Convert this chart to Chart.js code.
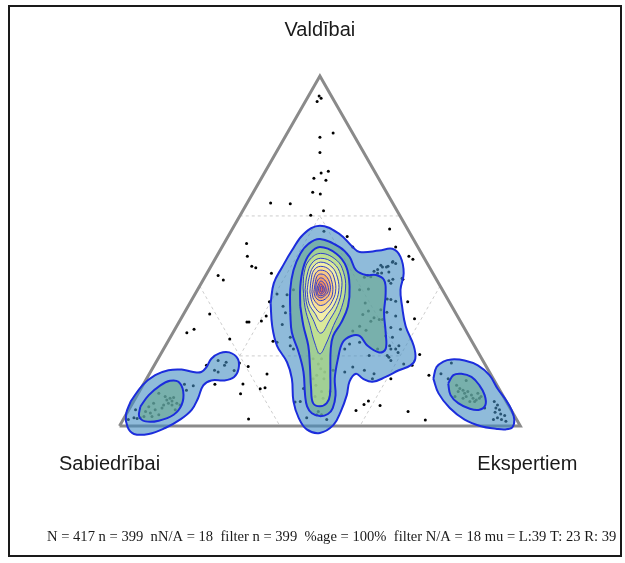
<!DOCTYPE html>
<html>
<head>
<meta charset="utf-8">
<script src="https://cdn.jsdelivr.net/npm/chart.js@4.4.1/dist/chart.umd.min.js"></script>
<style>
  html, body { margin: 0; padding: 0; background: #fff; }
</style>
</head>
<body>
<canvas id="triad" width="625" height="563" style="width:625px;height:563px;display:block"></canvas>
<script>
// corner labels: left, top, right
var cornerLabels = ['Sabiedrībai', 'Valdībai', 'Ekspertiem'];
var statsLine = 'N = 417 n = 399  nN/A = 18  filter n = 399  %age = 100%  filter N/A = 18 mu = L:39 T: 23 R: 39';

// zone lines (share of one corner, %)
var gridOuter = 60;
var gridInner = 20;

// responses as [position along base %, Valdībai share %]
var respScattered = [
  [49.8,94.3],[50.3,93.6],[49.3,92.7],[50.0,82.5],[53.3,83.7],[50.0,78.1],[52.1,72.8],[50.3,72.3],
  [48.5,70.8],[51.5,70.2],[48.2,66.8],[50.1,66.3],[37.7,63.7],[42.6,63.5],[47.7,60.2],[50.9,61.5],
  [56.8,54.1],[67.4,56.3],[68.9,51.1],[72.2,48.5],[73.2,47.6],[31.7,52.1],[31.9,48.5],[33.0,45.6],
  [34.0,45.2],[24.6,43.0],[25.9,41.7],[37.9,43.6],[22.5,32.0],[16.8,26.6],[18.6,27.6],[27.5,24.8],
  [31.8,29.7],[32.3,29.7],[35.4,30.0],[36.6,31.4],[37.4,35.5],[38.3,24.2],[29.9,18.0],[32.1,17.0],
  [30.8,12.0],[35.1,10.6],[36.3,10.9],[30.2,9.2],[32.2,2.0],[36.8,14.8],[23.8,11.9],[71.9,35.5],
  [73.6,30.6],[74.9,20.4],[77.2,14.5],[65.0,5.8],[72.0,4.1],[76.3,1.7],[59.0,4.4],[61.0,6.1],
  [62.1,7.1],[73.0,17.3],[67.7,13.5]
];
var respCentre = [
  [51.0,55.6],[58.2,51.1],[68.2,47.0],[68.9,46.4],[67.0,45.6],[63.5,44.2],[64.4,44.7],[65.4,43.7],
  [61.1,42.5],[62.7,42.6],[61.9,43.0],[67.2,41.5],[68.2,41.9],[59.9,38.9],[62.1,39.1],[70.7,41.9],
  [66.8,36.3],[68.9,35.6],[61.3,35.1],[62.1,32.8],[60.7,31.8],[63.5,30.9],[64.8,30.4],[62.7,29.9],
  [66.7,32.5],[59.9,28.5],[61.5,27.3],[58.2,27.1],[66.4,25.7],[67.4,22.9],[68.9,22.0],[69.5,21.0],
  [59.9,23.9],[62.3,20.1],[66.8,20.1],[41.8,37.5],[39.3,37.7],[40.6,29.0],[42.6,22.9],[39.3,23.9],
  [41.4,32.3],[42.6,25.3],[43.4,22.0],[48.3,19.2],[49.6,17.7],[50.2,16.3],[49.2,14.5],[51.0,13.5],
  [49.0,11.6],[50.4,9.8],[48.8,8.4],[50.8,7.9],[52.5,9.8],[53.3,15.9],[45.9,10.7],[45.1,7.0],
  [43.8,6.8],[49.6,4.1],[49.2,3.2],[50.4,3.2],[51.7,1.8],[46.7,2.3],[56.2,22.0],[57.4,23.4],
  [56.2,15.4],[58.2,16.8],[64.4,22.0],[67.2,19.6],[67.7,18.7],[69.7,22.9],[68.1,25.3],[70.1,27.6],
  [68.9,31.4],[67.7,36.1],[67.7,40.8],[70.5,42.2],[65.6,45.4],[66.6,45.4],[68.1,46.8],[63.1,13.5],
  [49.6,21.0],[49.2,23.4],[50.0,25.7],[50.4,19.2],[48.3,13.5],[51.2,15.4],[40.8,34.2],[43.4,38.9],
  [65.2,45.9],[67.2,44.0],[64.4,43.6],[65.2,33.2],[65.6,30.4],[67.7,28.1],[67.7,22.0],[70.9,17.7],
  [61.1,15.9],[63.5,14.9]
];
var respLeft = [
  [9.8,9.3],[11.4,8.4],[11.8,7.4],[12.6,7.9],[13.5,8.1],[12.2,6.5],[13.1,6.0],[11.0,6.0],
  [10.6,5.1],[8.9,4.6],[8.5,6.5],[7.7,3.7],[6.5,4.1],[6.1,2.7],[5.2,2.3],[7.3,5.5],
  [9.8,3.2],[8.1,2.7],[14.3,6.5],[15.1,6.0],[13.9,4.6],[13.1,7.1],[4.0,4.6],[3.6,2.3],
  [4.4,2.1],[2.2,1.8],[16.2,11.9],[18.4,11.5],[24.6,18.7],[26.2,17.3],[26.6,18.2],[23.7,15.9],
  [24.6,15.4],[28.6,15.8],[21.7,17.3],[16.7,10.2]
];
var respRight = [
  [84.1,11.6],[84.9,10.7],[85.7,10.2],[84.5,9.8],[86.1,9.3],[86.9,9.8],[87.8,8.8],[86.5,8.4],
  [88.2,7.9],[89.0,7.4],[89.8,7.9],[88.6,7.0],[87.4,7.0],[85.7,7.9],[83.7,8.4],[90.2,8.4],
  [89.4,9.3],[86.5,13.0],[82.8,18.0],[80.2,14.9],[82.0,13.5],[93.5,7.0],[94.3,6.0],[93.9,5.1],
  [94.8,4.6],[93.7,3.9],[95.1,3.4],[96.1,3.0],[94.3,2.3],[93.3,1.8],[95.3,1.8],[96.4,1.3],[91.1,5.1]
];

// density contours (same units)
var centreL1 = [[37.7,35.1],[38.5,40.8],[40.6,45.4],[43.0,50.1],[45.9,54.8],[50.0,57.2],[54.9,54.8],[58.2,51.1],
  [59.9,49.7],[64.8,50.1],[68.1,50.6],[70.1,48.3],[70.9,43.6],[70.1,38.9],[70.5,34.2],[71.4,28.5],[73.4,22.9],
  [73.8,19.2],[72.6,17.3],[69.7,15.9],[66.4,14.0],[63.1,12.6],[60.7,13.5],[59.0,14.9],[57.4,12.7],[56.7,8.8],
  [55.2,4.1],[53.4,0.3],[50.0,-2.0],[46.7,-1.0],[44.7,2.3],[43.4,7.0],[43.0,13.5],[41.8,18.2],[39.3,22.9],[38.1,28.5]];
var leftL1 = [[2.8,7.0],[5.7,11.6],[8.9,14.5],[12.2,15.9],[15.5,16.1],[18.4,15.4],[20.4,15.4],[21.7,16.8],
  [22.9,19.2],[25.0,20.8],[27.4,21.0],[29.5,19.2],[29.7,16.3],[28.6,14.0],[26.2,13.0],[22.9,13.0],[20.9,11.6],
  [19.6,7.9],[18.0,4.6],[15.1,1.8],[11.4,-0.6],[7.3,-2.3],[3.6,-2.3],[2.0,-0.3],[1.6,3.2]];
var rightL1 = [[78.3,13.5],[79.1,16.8],[80.8,18.4],[82.8,19.0],[86.1,18.7],[89.4,17.3],[92.3,14.5],[94.3,10.7],
  [96.4,7.4],[97.8,4.6],[98.5,1.8],[98.0,-0.4],[96.3,-1.0],[93.9,-0.8],[90.2,-0.1],[86.1,1.8],[82.4,5.1],[79.6,9.3]];
var centreL2 = [[42.6,32.3],[42.6,38.9],[43.4,44.5],[45.1,49.2],[47.1,52.0],[50.0,53.4],[54.9,51.1],[57.4,48.3],
  [59.0,44.5],[61.5,43.1],[64.0,43.1],[66.0,41.7],[66.4,37.9],[66.0,32.3],[66.4,26.7],[66.4,22.0],[64.8,21.0],
  [61.9,22.9],[59.9,25.7],[57.8,25.7],[55.7,23.9],[54.5,19.2],[53.7,13.5],[53.9,8.8],[53.2,5.1],[52.0,3.4],
  [50.0,2.8],[48.0,3.6],[46.8,5.6],[46.3,8.8],[45.9,15.4],[44.7,21.0],[43.0,26.7]];
var leftL2 = [[5.2,5.5],[7.3,8.8],[10.2,11.6],[12.6,12.9],[14.7,12.6],[15.9,9.8],[15.5,6.0],[13.5,3.2],[9.8,1.5],[6.5,1.3],[4.9,2.7]];
var rightL2 = [[82.0,12.1],[83.3,14.5],[85.3,14.9],[87.8,14.0],[89.8,11.6],[91.1,8.8],[91.3,6.0],[89.8,4.6],[87.4,4.9],[84.5,6.5],[82.6,8.8]];
var centreL3 = [[45.1,34.2],[45.1,39.8],[45.9,45.4],[47.5,49.2],[50.0,51.1],[54.1,49.2],[56.6,45.4],[57.4,39.8],
  [57.0,34.2],[55.3,29.5],[53.3,25.7],[52.7,22.0],[52.6,15.4],[52.5,8.8],[51.7,6.5],[50.0,5.6],[48.3,6.5],
  [47.8,10.7],[47.5,17.3],[47.1,22.9],[45.9,28.5]];
var peakRings = [
  [[45.8,39.4],[46.1,43.9],[47.3,47.3],[50.2,49.3],[54.2,47.3],[55.9,43.9],[56.4,39.4],[55.4,33.8],[53.4,28.7],[51.5,23.4],[50.0,20.6],[48.8,23.4],[47.5,28.7],[46.3,33.8]],
  [[46.3,38.9],[46.8,43.1],[48.0,46.5],[50.2,47.9],[53.4,46.5],[55.2,43.1],[55.4,38.9],[54.4,34.4],[52.5,30.4],[50.2,26.5],[48.3,30.4],[46.8,34.4]],
  [[46.8,38.6],[47.3,42.3],[48.3,45.4],[50.2,46.8],[53.0,45.4],[54.4,42.3],[54.7,38.6],[53.7,34.9],[52.0,32.1],[50.2,29.9],[48.8,32.1],[47.3,34.9]],
  [[47.5,38.3],[47.8,41.7],[48.5,44.5],[50.2,45.6],[52.5,44.5],[53.7,41.7],[53.9,38.3],[53.0,35.5],[51.7,33.5],[50.2,32.4],[49.0,33.5],[48.0,35.5]],
  [[48.0,38.3],[48.3,41.1],[49.0,43.7],[50.2,44.5],[52.0,43.7],[53.0,41.1],[53.2,38.3],[52.5,36.1],[50.2,34.4],[48.5,36.1]],
  [[48.5,38.3],[48.8,40.6],[49.3,42.8],[50.2,43.4],[51.5,42.8],[52.5,40.6],[52.5,38.3],[51.7,36.6],[50.2,35.8],[49.0,36.6]],
  [[49.0,38.3],[49.0,40.0],[49.5,41.7],[50.2,42.3],[51.2,41.7],[52.0,40.0],[52.0,38.3],[51.2,37.2],[50.2,36.6],[49.3,37.2]],
  [[49.3,38.3],[49.3,39.4],[49.8,40.8],[50.2,41.4],[51.0,40.8],[51.5,39.4],[51.5,38.3],[51.0,37.5],[50.2,37.2],[49.5,37.5]],
  [[49.6,39.2],[49.9,40.1],[50.2,40.6],[50.7,40.1],[51.1,39.2],[51.0,38.3],[50.2,37.7],[49.8,38.3]],
  [[50.1,38.6],[50.1,39.4],[50.4,40.0],[50.7,39.4],[50.7,38.6],[50.4,38.2]]
];

// fill colour per density level (outer -> peak)
var levelFills = [
  'rgba(68,142,193,0.6)', 'rgba(105,169,141,0.6)', 'rgba(190,228,135,0.6)',
  'rgba(196,226,146,0.9)', 'rgba(222,234,156,0.9)', 'rgba(244,238,170,0.9)', 'rgba(250,222,150,0.92)',
  'rgba(250,200,132,0.95)', 'rgba(248,176,116,0.95)', 'rgba(245,156,104,0.95)', 'rgba(242,138,96,0.95)',
  'rgba(238,120,88,0.95)', 'rgba(232,104,82,0.95)'
];

function xy(list) { return list.map(function (p) { return { x: p[0], y: p[1] }; }); }
function ring(list) { var d = xy(list); d.push(d[0]); return d; }
// ternary shares (left, top, right) -> plot position
function tern(l, t, r) { return { x: r + t / 2, y: t }; }

function contour(list, level) {
  return {
    data: ring(list),
    showLine: true,
    fill: 'shape',
    backgroundColor: levelFills[level],
    borderColor: level < 3 ? '#1c2ddc' : '#3040cc',
    borderWidth: level < 3 ? 2 : 1,
    borderJoinStyle: 'round',
    pointRadius: 0,
    tension: 0.4,
    order: 100 - level * 5
  };
}

function gridLine(pts) {
  return {
    data: pts, showLine: true, fill: false,
    borderColor: '#cdcdcd', borderWidth: 1, borderDash: [3, 3],
    pointRadius: 0, order: 300
  };
}

var g = gridOuter, h = gridInner;
var datasets = [
  gridLine([tern(100 - g, g, 0), tern(0, g, 100 - g)]),
  gridLine([tern(g, 100 - g, 0), tern(g, 0, 100 - g)]),
  gridLine([tern(0, 100 - g, g), tern(100 - g, 0, g)]),
  gridLine([tern(100 - 2 * h, h, h), tern(h, h, 100 - 2 * h), tern(h, 100 - 2 * h, h), tern(100 - 2 * h, h, h)]),
  {
    data: [tern(100, 0, 0), tern(0, 0, 100), tern(0, 100, 0), tern(100, 0, 0)],
    showLine: true, fill: false, borderColor: '#8a8a8a', borderWidth: 3,
    borderJoinStyle: 'miter', pointRadius: 0, order: 250
  },
  {
    data: xy(respScattered.concat(respCentre, respLeft, respRight)),
    showLine: false, pointRadius: 1.5, pointBorderWidth: 0,
    pointBackgroundColor: '#000', order: 200
  },
  contour(centreL1, 0), contour(leftL1, 0), contour(rightL1, 0),
  contour(centreL2, 1), contour(leftL2, 1), contour(rightL2, 1),
  contour(centreL3, 2)
];
peakRings.forEach(function (r, i) { datasets.push(contour(r, i + 3)); });

var frameAndLabels = {
  id: 'frameAndLabels',
  afterDraw: function (chart) {
    var ctx = chart.ctx, xs = chart.scales.x, ys = chart.scales.y;
    ctx.save();
    ctx.strokeStyle = '#1a1a1a';
    ctx.lineWidth = 2;
    ctx.strokeRect(9, 6, 612, 550);
    ctx.fillStyle = '#1a1a1a';
    ctx.font = '20px "Liberation Sans", Arial, sans-serif';
    ctx.textAlign = 'center';
    ctx.textBaseline = 'middle';
    ctx.fillText(cornerLabels[1], xs.getPixelForValue(50), ys.getPixelForValue(100) - 45);
    ctx.fillText(cornerLabels[0], xs.getPixelForValue(0) - 10, ys.getPixelForValue(0) + 39);
    ctx.fillText(cornerLabels[2], xs.getPixelForValue(100) + 7, ys.getPixelForValue(0) + 39);
    ctx.font = '14.6px "Liberation Serif", "Times New Roman", serif';
    ctx.textAlign = 'left';
    ctx.fillText(statsLine, 47, 537);
    ctx.restore();
  }
};

new Chart(document.getElementById('triad').getContext('2d'), {
  type: 'scatter',
  data: { datasets: datasets },
  options: {
    responsive: false,
    animation: false,
    layout: { padding: 0 },
    plugins: { legend: { display: false }, tooltip: { enabled: false } },
    scales: {
      x: { type: 'linear', min: -28.82, max: 125.12, display: false },
      y: { type: 'linear', min: -38.03, max: 120.56, display: false }
    }
  },
  plugins: [frameAndLabels]
});
</script>
</body>
</html>
